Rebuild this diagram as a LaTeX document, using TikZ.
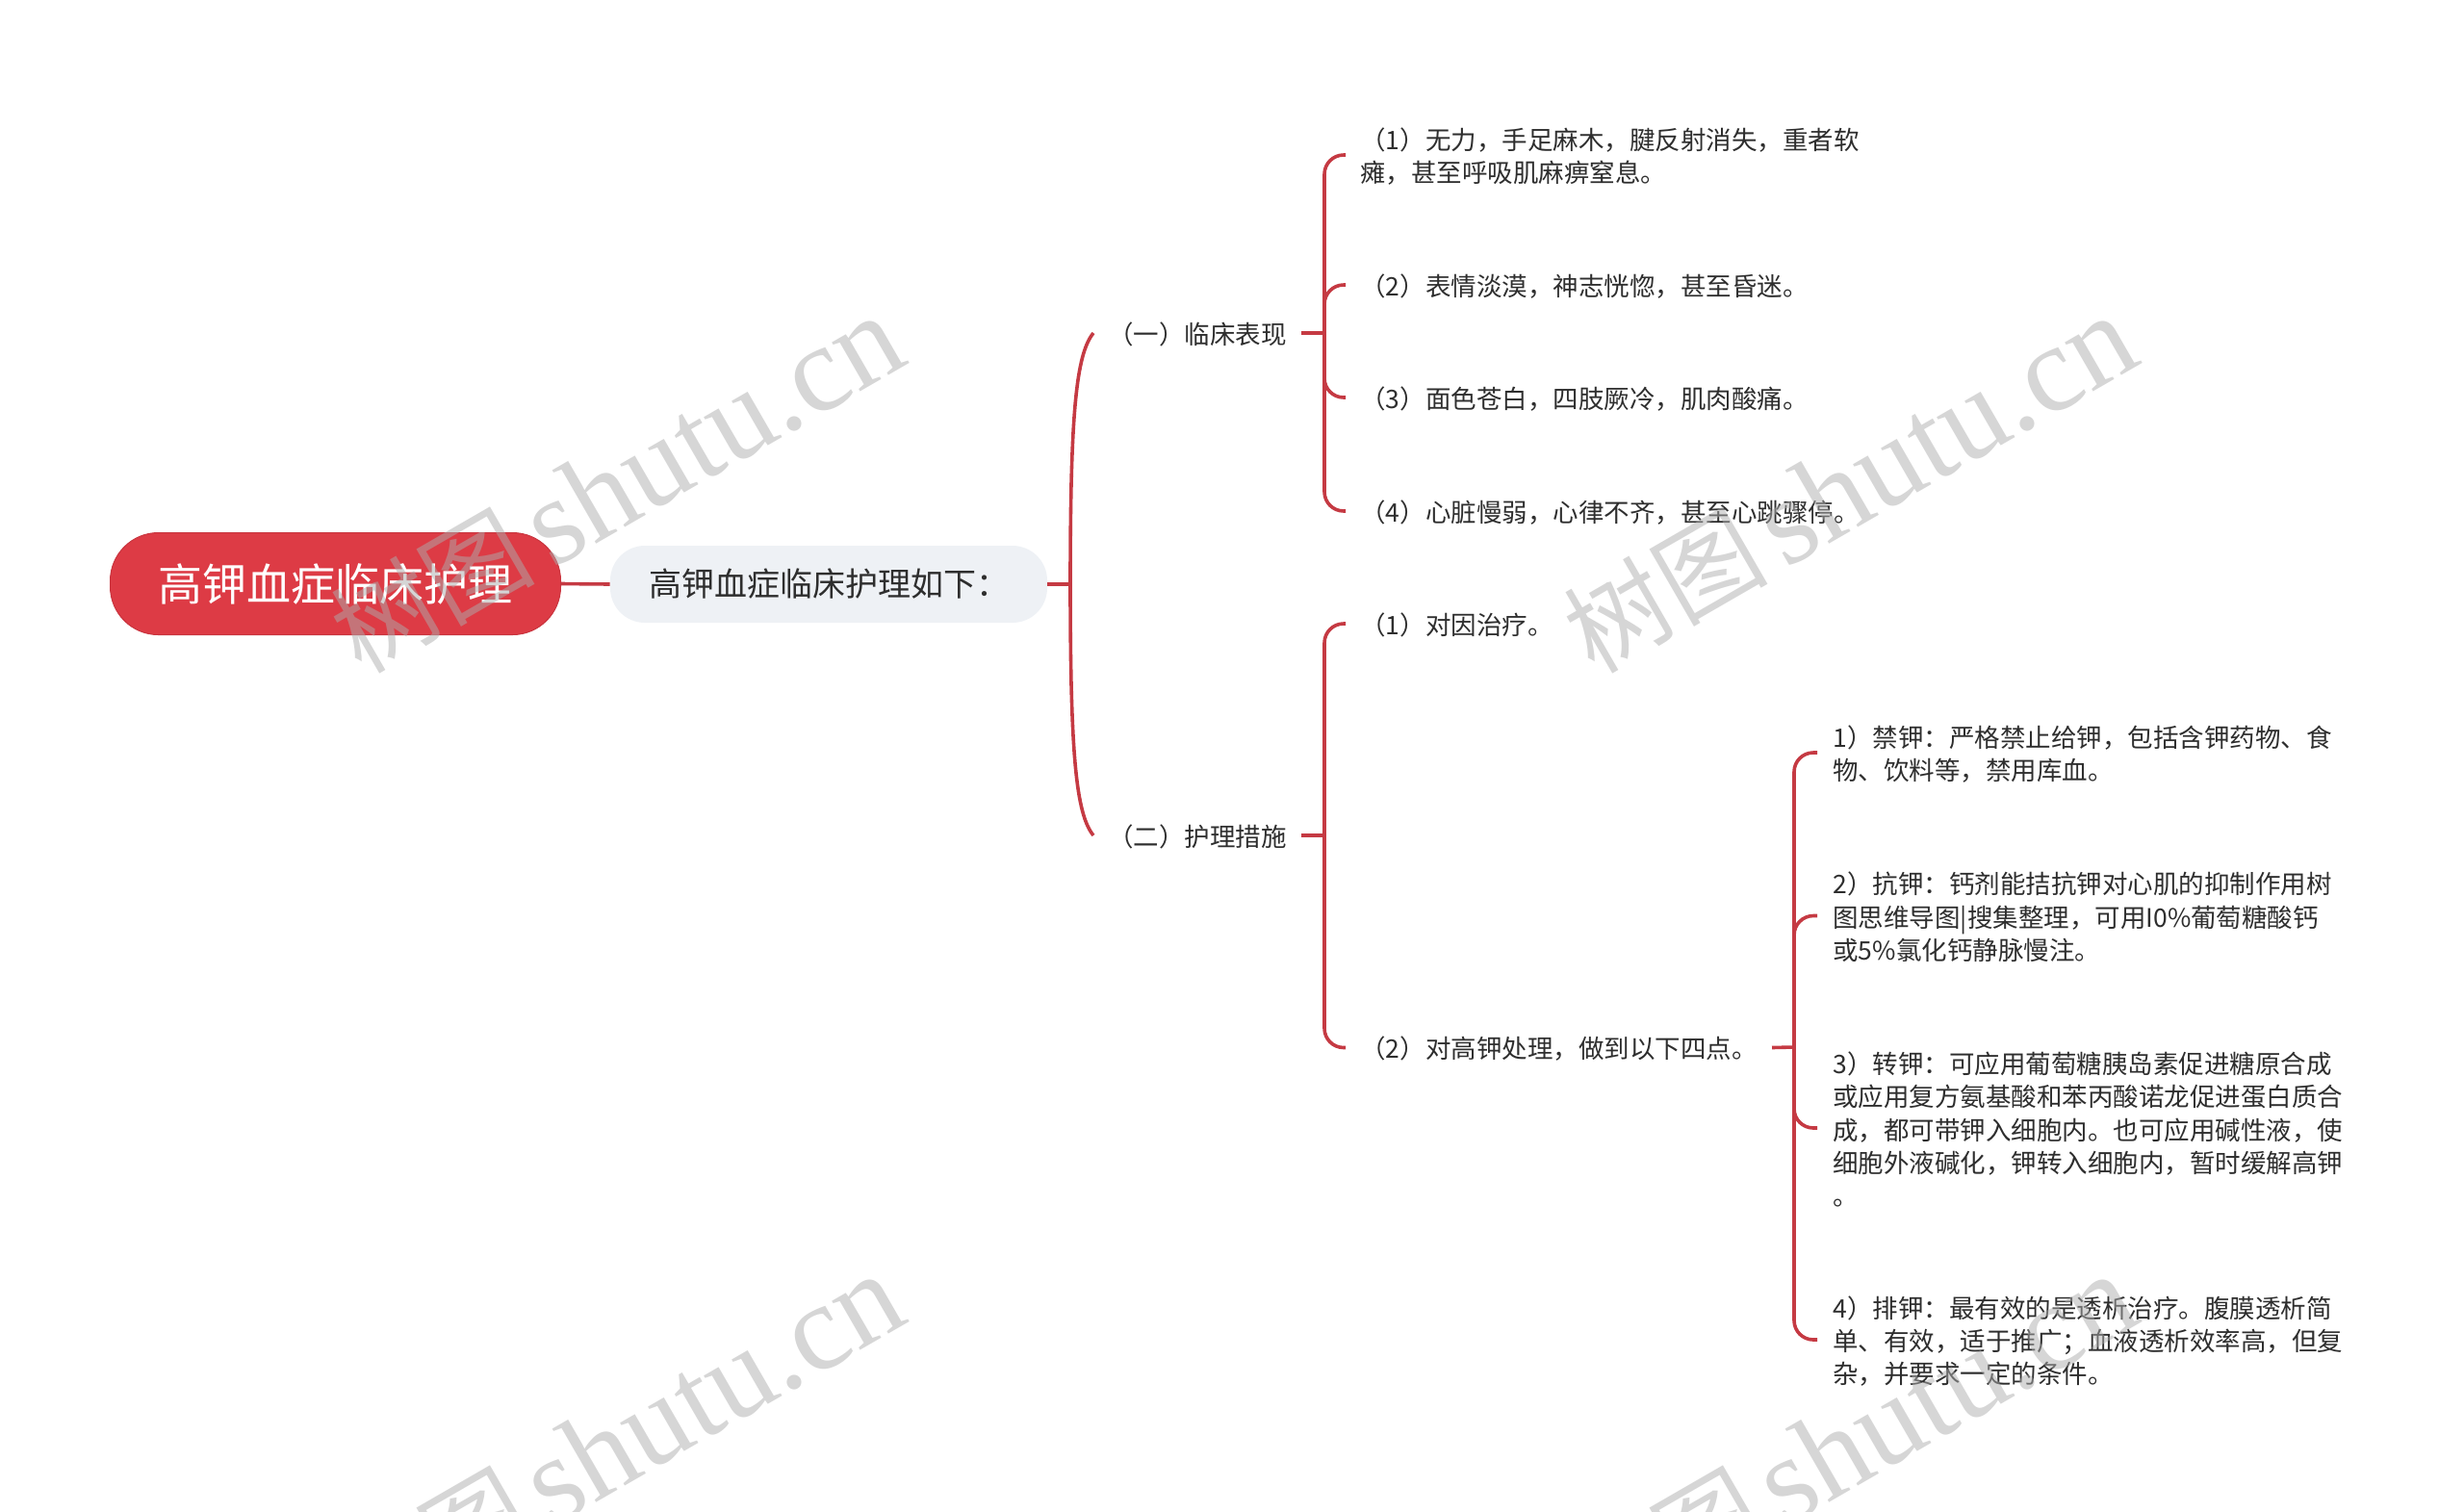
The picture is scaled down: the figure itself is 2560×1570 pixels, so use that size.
\documentclass[tikz,border=0pt]{standalone}
\usepackage{fontspec}
\setmainfont{Noto Sans CJK SC}
\newfontfamily\wmlat{Liberation Serif}
\definecolor{linkred}{HTML}{C53A43}
\definecolor{rootred}{HTML}{DD3B45}
\definecolor{rootedge}{HTML}{C9343E}
\definecolor{subfill}{HTML}{EEF1F5}
\definecolor{inkc}{HTML}{2E2E2E}
\definecolor{wmc}{HTML}{ADADAD}
\tikzset{
  rootbox/.style={draw=rootedge,line width=0.5pt,fill=rootred,rounded corners=25pt,minimum width=234pt,minimum height=53pt,inner sep=0pt,text=white,font=\fontsize{23}{28}\selectfont},
  subbox/.style={fill=subfill,rounded corners=18pt,minimum width=227pt,minimum height=40pt,inner sep=0pt,text=inkc,font=\fontsize{17}{21}\selectfont},
  leaf/.style={anchor=west,align=left,inner ysep=0pt,inner xsep=7.5pt,yshift=-0.75pt,text=inkc,font=\fontsize{13.25}{17.15}\selectfont},
  branchnode/.style={leaf,inner xsep=7.5pt},
  link/.style={draw=linkred,line width=1.8pt},
  elbow/.style={link,rounded corners=10pt},
  wmcn/.style={anchor=base west,rotate=30,inner sep=0pt,text=wmc,opacity=0.5,font=\fontsize{53}{58}\selectfont},
  wmen/.style={anchor=base west,rotate=30,inner sep=0pt,text=wmc,opacity=0.5,font=\fontsize{64}{70}\selectfont\wmlat},
}
\begin{document}
\begin{tikzpicture}[x=0.5pt,y=-0.5pt]
\useasboundingbox (0,0) rectangle (2560,1570);
\node[rootbox] (root) at (348.5,606.5) {高钾血症临床护理};
\node[subbox] (sub) at (861,607) {高钾血症临床护理如下：\hspace{19pt}};
\node[branchnode] (b1) at (1136,346) {（一）临床表现};
\node[branchnode] (b2) at (1136,868) {（二）护理措施};
\node[leaf] (a1) at (1398,161) {（1）无力，手足麻木，腱反射消失，重者软\\瘫，甚至呼吸肌麻痹窒息。};
\node[leaf] (a2) at (1398,296) {（2）表情淡漠，神志恍惚，甚至昏迷。};
\node[leaf] (a3) at (1398,413) {（3）面色苍白，四肢厥冷，肌肉酸痛。};
\node[leaf] (a4) at (1398,531) {（4）心脏慢弱，心律不齐，甚至心跳骤停。};
\node[leaf] (c1) at (1398,648) {（1）对因治疗。};
\node[leaf] (c2) at (1398,1088.5) {（2）对高钾处理，做到以下四点。};
\node[leaf,inner xsep=8pt] (d1) at (1888,782) {1）禁钾：严格禁止给钾，包括含钾药物、食\\物、饮料等，禁用库血。};
\node[leaf,inner xsep=8pt] (d2) at (1888,951.5) {2）抗钾：钙剂能拮抗钾对心肌的抑制作用树\\图思维导图|搜集整理，可用I0\%葡萄糖酸钙\\或5\%氯化钙静脉慢注。};
\node[leaf,inner xsep=8pt] (d3) at (1888,1172) {3）转钾：可应用葡萄糖胰岛素促进糖原合成\\或应用复方氨基酸和苯丙酸诺龙促进蛋白质合\\成，都可带钾入细胞内。也可应用碱性液，使\\细胞外液碱化，钾转入细胞内，暂时缓解高钾\\。};
\node[leaf,inner xsep=8pt] (d4) at (1888,1392) {4）排钾：最有效的是透析治疗。腹膜透析简\\单、有效，适于推广；血液透析效率高，但复\\杂，并要求一定的条件。};
\coordinate (s0) at (1112,607);
\coordinate (s1) at (1376,346);
\coordinate (s2) at (1376,868);
\coordinate (s3) at (1864,1088);
\draw[link] (root.east) -- (sub.west);
\draw[link] (sub.east) -- (s0);
\draw[link] (s0) .. controls (1112,430) and (1118,368) .. ([yshift=0.75pt]b1.west);
\draw[link] (s0) .. controls (1112,784) and (1118,846) .. ([yshift=0.75pt]b2.west);
\draw[link] ([yshift=0.75pt]b1.east) -- (s1);
\draw[link] ([yshift=0.75pt]b2.east) -- (s2);
\draw[link] ([yshift=0.75pt]c2.east) -- (s3);
\foreach \t in {a1,a2,a3,a4}{\draw[elbow] (s1) |- ([yshift=0.75pt]\t.west);}
\foreach \t in {c1,c2}{\draw[elbow] (s2) |- ([yshift=0.75pt]\t.west);}
\foreach \t in {d1,d2,d3,d4}{\draw[elbow] (s3) |- ([yshift=0.75pt]\t.west);}
\begin{scope}
\clip (0,0) rectangle (2560,1570);
\node[wmcn] (w1a) at (375,702) {树图};
\node[wmen] (w1b) at (574,592) {shutu.cn};
\node[wmcn] (w2a) at (1656,702) {树图};
\node[wmen] (w2b) at (1855,592) {shutu.cn};
\node[wmcn] (w3a) at (375,1698) {树图};
\node[wmen] (w3b) at (574,1588) {shutu.cn};
\node[wmcn] (w4a) at (1656,1698) {树图};
\node[wmen] (w4b) at (1855,1588) {shutu.cn};
\end{scope}
\end{tikzpicture}
\end{document}
